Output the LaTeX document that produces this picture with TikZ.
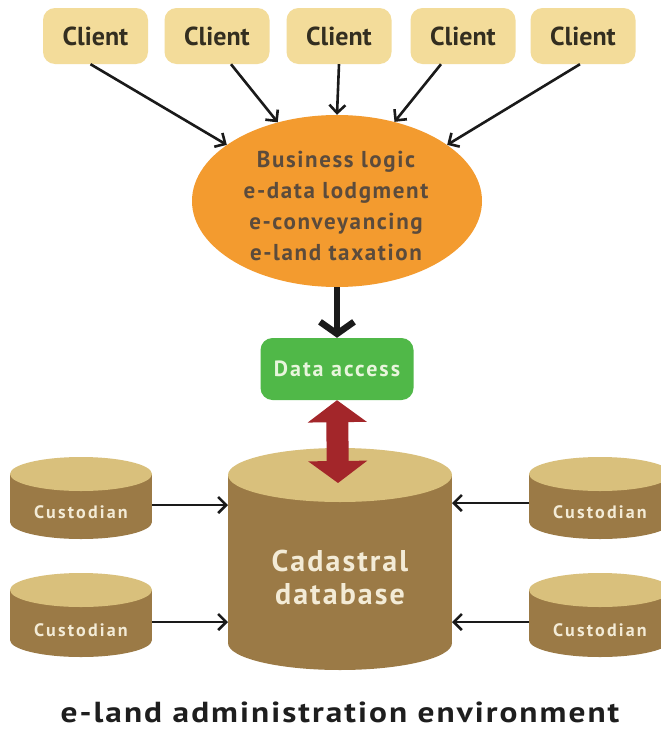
\documentclass[tikz,border=0pt]{standalone}
\usepackage{fontspec}
\setmainfont{PT Sans}
\usetikzlibrary{arrows.meta,shapes.geometric}
\definecolor{clientfill}{HTML}{F3DC9A}
\definecolor{clienttext}{HTML}{332E20}
\definecolor{orangefill}{HTML}{F39B2F}
\definecolor{orangetext}{HTML}{5B4B3C}
\definecolor{greenfill}{HTML}{50B848}
\definecolor{greentext}{HTML}{E8F5DC}
\definecolor{redarrow}{HTML}{A3262A}
\definecolor{cylbody}{HTML}{9B7A46}
\definecolor{cyltop}{HTML}{D9C07C}
\definecolor{cyltext}{HTML}{F3EBD6}
\definecolor{titletext}{HTML}{1E1E1E}
\definecolor{arrowc}{HTML}{1A1A1A}
\begin{document}
\begin{tikzpicture}[x=1pt,y=-1pt,
  client/.style={fill=clientfill, rounded corners=12pt, minimum width=105pt, minimum height=56pt, inner sep=0pt, text=clienttext, font=\bfseries\fontsize{26}{30}\selectfont},
  thinarrow/.style={draw=arrowc, line width=2.6pt, -{Straight Barb[length=8pt,width=16pt]}},
  holder/.style={inner sep=0pt, outer sep=0pt},
  custtext/.style={text=cyltext, font=\bfseries\addfontfeature{LetterSpace=12}\fontsize{18}{21}\selectfont},
]
\clip (0,0) rectangle (661,731);
\fill[white] (0,0) rectangle (661,731);

% clients
\node[client] (c1) at (95.5,36) {Client};
\node[client] (c2) at (217,36) {Client};
\node[client] (c3) at (339,36) {Client};
\node[client] (c4) at (463,36) {Client};
\node[client] (c5) at (583,36) {Client};

% business logic ellipse
\node[ellipse, fill=orangefill, minimum width=290pt, minimum height=172pt, inner sep=0pt] (bl) at (337,201) {};
\node[align=center, text=orangetext, font=\bfseries\addfontfeature{LetterSpace=7}\fontsize{23}{31}\selectfont] (blt) at (336,206)
  {Business logic\\e-data lodgment\\e-conveyancing\\e-land taxation};

\draw[thinarrow] ([xshift=-5pt]c1.south) -- (bl.153);
\draw[thinarrow] ([xshift=14pt]c2.south) -- (bl.127);
\draw[thinarrow] (c3.south) -- (bl.north);
\draw[thinarrow] ([xshift=-22pt]c4.south) -- (bl.54);
\draw[thinarrow] ([xshift=-3pt]c5.south) -- (bl.27);

% data access
\node[fill=greenfill, rounded corners=12pt, minimum width=153pt, minimum height=62pt, inner sep=0pt, text=greentext, font=\bfseries\addfontfeature{LetterSpace=9}\fontsize{22}{26}\selectfont] (da) at (337,369) {Data access};
\draw[arrowc, line width=6.5pt, -{Straight Barb[length=12pt,width=34pt]}] (bl.south) -- (da.north);

% cadastral database cylinder
\fill[cylbody] (228,475) rectangle (452,643);
\fill[cylbody] (340,643) ellipse [x radius=112pt, y radius=27pt];
\fill[cyltop] (340,475) ellipse [x radius=112pt, y radius=27pt];
\node[holder, minimum width=224pt, minimum height=222pt] (db) at (340,559) {};
\node[align=center, text=cyltext, font=\bfseries\addfontfeature{LetterSpace=7}\fontsize{30}{33}\selectfont] (dbt) at (340,577) {Cadastral\\database};

% red double arrow
\coordinate (dbtip) at (338,483);
\draw[redarrow, line width=22pt, {Triangle[length=22pt,width=58pt]}-{Triangle[length=22pt,width=58pt]}] (da.south) -- (dbtip);

% custodians left
\fill[cylbody] (10,474) rectangle (152,522);
\fill[cylbody] (81,522) ellipse [x radius=71pt, y radius=17pt];
\fill[cyltop] (81,474) ellipse [x radius=71pt, y radius=17pt];
\node[holder, minimum width=142pt, minimum height=82pt] (cu1) at (81,498) {};
\node[custtext] (cu1t) at (81,512) {Custodian};

\fill[cylbody] (10,590) rectangle (152,640);
\fill[cylbody] (81,640) ellipse [x radius=71pt, y radius=17pt];
\fill[cyltop] (81,590) ellipse [x radius=71pt, y radius=17pt];
\node[holder, minimum width=142pt, minimum height=84pt] (cu2) at (81,615) {};
\node[custtext] (cu2t) at (81,630) {Custodian};

% custodians right
\fill[cylbody] (529,474) rectangle (671,522);
\fill[cylbody] (600,522) ellipse [x radius=71pt, y radius=17pt];
\fill[cyltop] (600,474) ellipse [x radius=71pt, y radius=17pt];
\node[holder, minimum width=142pt, minimum height=82pt] (cu3) at (600,498) {};
\node[custtext] (cu3t) at (600,512) {Custodian};

\fill[cylbody] (529,590) rectangle (671,640);
\fill[cylbody] (600,640) ellipse [x radius=71pt, y radius=17pt];
\fill[cyltop] (600,590) ellipse [x radius=71pt, y radius=17pt];
\node[holder, minimum width=142pt, minimum height=84pt] (cu4) at (600,615) {};
\node[custtext] (cu4t) at (600,630) {Custodian};

\draw[thinarrow] ([yshift=-7pt]cu1.east) -- ([yshift=-7pt]cu1.east -| db.west);
\draw[thinarrow] ([yshift=-7pt]cu2.east) -- ([yshift=-7pt]cu2.east -| db.west);
\draw[thinarrow] ([yshift=-5pt]cu3.west) -- ([yshift=-5pt]cu3.west -| db.east);
\draw[thinarrow] ([yshift=-7pt]cu4.west) -- ([yshift=-7pt]cu4.west -| db.east);

% title
\node[anchor=base, inner sep=0pt, text=titletext, font=\bfseries\addfontfeature{FakeStretch=1.15,LetterSpace=7}\fontsize{29}{33}\selectfont] (title) at (340,722) {e-land administration environment};
\end{tikzpicture}
\end{document}
